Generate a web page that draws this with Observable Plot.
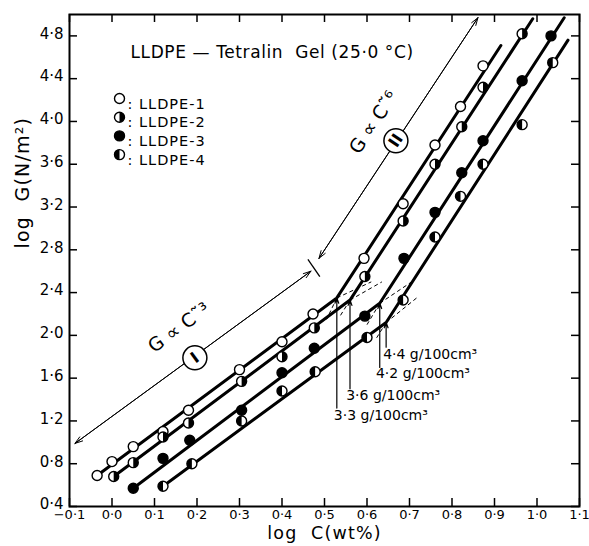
<!DOCTYPE html>
<html><head><meta charset="utf-8">
<script src="https://cdn.jsdelivr.net/npm/d3@7"></script>
<script src="https://cdn.jsdelivr.net/npm/@observablehq/plot@0.6"></script>
<style>
body{margin:0;background:#fff;}
#chart svg{display:block}
</style></head><body><div id="chart"></div>
<script>
// ---------- data ----------
const series = ["LLDPE-1","LLDPE-2","LLDPE-3","LLDPE-4"];

const c1 = [-0.035, 0.0, 0.05, 0.12, 0.18, 0.30, 0.40, 0.473, 0.593, 0.685, 0.76, 0.82, 0.873];
const g1 = [0.69, 0.82, 0.96, 1.10, 1.30, 1.68, 1.94, 2.20, 2.72, 3.23, 3.78, 4.14, 4.52];
const c2 = [0.004, 0.05, 0.12, 0.18, 0.305, 0.40, 0.476, 0.595, 0.685, 0.76, 0.823, 0.873, 0.965];
const g2 = [0.68, 0.81, 1.05, 1.18, 1.57, 1.80, 2.07, 2.55, 3.07, 3.60, 3.95, 4.32, 4.82];
const c3 = [0.05, 0.12, 0.183, 0.305, 0.40, 0.476, 0.595, 0.687, 0.76, 0.823, 0.873, 0.965, 1.033];
const g3 = [0.57, 0.85, 1.02, 1.30, 1.65, 1.88, 2.18, 2.72, 3.15, 3.52, 3.82, 4.38, 4.80];
const c4 = [0.12, 0.188, 0.305, 0.40, 0.478, 0.60, 0.685, 0.76, 0.82, 0.873, 0.965, 1.037];
const g4 = [0.59, 0.80, 1.20, 1.48, 1.66, 1.98, 2.33, 2.92, 3.30, 3.60, 3.97, 4.55];

// fitted broken lines: start, kink, end
const fitC1 = [-0.035, 0.529, 0.915], fitG1 = [0.69, 2.35, 4.71];
const fitC2 = [0.004, 0.56, 0.99],    fitG2 = [0.68, 2.33, 4.96];
const fitC3 = [0.05, 0.63, 1.064],    fitG3 = [0.57, 2.30, 4.97];
const fitC4 = [0.12, 0.645, 1.073],   fitG4 = [0.59, 2.12, 4.76];

// dashed extensions beyond each kink
const dashLowC = [0.61, 0.635, 0.705, 0.72], dashLowG = [2.50, 2.50, 2.50, 2.36];
const dashUpC  = [0.505, 0.535, 0.60, 0.62], dashUpG  = [2.15, 2.17, 2.10, 1.96];

// critical concentrations
const concLabels = ["3·3 g/100cm³", "3·6 g/100cm³", "4·2 g/100cm³", "4·4 g/100cm³"];
const concC   = [0.529, 0.56, 0.63, 0.645];
const concTop = [2.35, 2.33, 2.30, 2.12];
const concBot = [1.32, 1.50, 1.70, 1.89];
const concLabelC = [0.522, 0.551, 0.621, 0.638];
const concLabelG = [1.25, 1.44, 1.64, 1.82];

// region arrows (I and II)
const regC1 = [-0.087, 0.487], regG1 = [0.99, 2.72];
const regC2 = [0.468, 0.861], regG2 = [2.60, 4.97];
const regionText = ["G ∝ C˜³", "G ∝ C˜⁶"];
const regionTextC = [0.158, 0.616], regionTextG = [2.07, 3.99];
const regionNum = ["I", "II"];
const regionNumC = [0.195, 0.668], regionNumG = [1.79, 3.82];
const regionAngle = [-36, -56];
const crossC = [0.461, 0.489], crossG = [2.71, 2.55];

// axes
const xTicks = [-0.1,0.0,0.1,0.2,0.3,0.4,0.5,0.6,0.7,0.8,0.9,1.0,1.1];
const xTickLabels = ["−0·1","0·0","0·1","0·2","0·3","0·4","0·5","0·6","0·7","0·8","0·9","1·0","1·1"];
const yTicks = [0.4,0.8,1.2,1.6,2.0,2.4,2.8,3.2,3.6,4.0,4.4,4.8];
const yTickLabels = ["0·4","0·8","1·2","1·6","2·0","2·4","2·8","3·2","3·6","4·0","4·4","4·8"];
const xTitle = "log  C(wt%)";
const yTitle = "log  G(N/m²)";
const title = "LLDPE — Tetralin  Gel (25·0 °C)";

// ---------- tables ----------
const pts = [[c1,g1],[c2,g2],[c3,g3],[c4,g4]].flatMap(([cs,gs],k) =>
  cs.map((c,i) => ({series: series[k], logC: c, logG: gs[i]})));
const fits = [[fitC1,fitG1],[fitC2,fitG2],[fitC3,fitG3],[fitC4,fitG4]].flatMap(([cs,gs],k) =>
  cs.map((c,i) => ({series: series[k], logC: c, logG: gs[i]})));
const kinks = [[fitC1,fitG1],[fitC2,fitG2],[fitC3,fitG3],[fitC4,fitG4]].map(([cs,gs]) => [cs[1], gs[1]]);
const dashes = kinks.flatMap(([kc,kg],k) => [
  {x1: kc, y1: kg, x2: dashLowC[k], y2: dashLowG[k]},
  {x1: kc, y1: kg, x2: dashUpC[k], y2: dashUpG[k]}
]);
const concs = concLabels.map((t,i) => ({t, x: concC[i], y1: concBot[i], y2: concTop[i], lx: concLabelC[i], ly: concLabelG[i]}));
const regs = regC1.map((c,i) => ({x1: c, y1: regG1[i], x2: regC2[i], y2: regG2[i]}));
const regTexts = regionText.map((t,i) => ({t, x: regionTextC[i], y: regionTextG[i], a: regionAngle[i]}));
const regNums = regionNum.map((t,i) => ({t, x: regionNumC[i], y: regionNumG[i], a: regionAngle[i]}));

// half-disc symbols
const halfRight = {draw(ctx, size){ const r = Math.sqrt(size/Math.PI); ctx.moveTo(0,-r); ctx.arc(0,0,r,-Math.PI/2,Math.PI/2,false); ctx.closePath(); }};
const halfLeft  = {draw(ctx, size){ const r = Math.sqrt(size/Math.PI); ctx.moveTo(0,-r); ctx.arc(0,0,r,-Math.PI/2,Math.PI/2,true); ctx.closePath(); }};
const fillOf = s => s === "LLDPE-3" ? "black" : "white";
const halfOf = {"LLDPE-2": halfRight, "LLDPE-4": halfLeft};

const W = 589, H = 546, mL = 69, mR = 10, mT = 14, mB = 40;
const iw = W - mL - mR, ih = H - mT - mB, tk = 8;
const FONT = "DejaVu Sans, sans-serif";

const legendMarks = series.flatMap((s,i) => {
  const dy = 84 + i*18.7;
  const m = [Plot.dot([s], {frameAnchor: "top-left", dx: 50, dy, r: 5, fill: fillOf(s), stroke: "black", strokeWidth: 1.4})];
  if (halfOf[s]) m.push(Plot.dot([s], {frameAnchor: "top-left", dx: 50, dy, r: 5, symbol: halfOf[s], fill: "black", stroke: "none"}));
  m.push(Plot.text([": " + s], {frameAnchor: "top-left", dx: 58, dy, text: d => d, textAnchor: "start", fontSize: 14.5}));
  return m;
});

const chart = Plot.plot({
  width: W, height: H,
  marginLeft: mL, marginRight: mR, marginTop: mT, marginBottom: mB,
  style: {fontFamily: FONT, background: "#fff", color: "#000"},
  x: {domain: [-0.1, 1.1]},
  y: {domain: [0.4, 5.0]},
  marks: [
    Plot.frame({stroke: "black", strokeWidth: 2}),
    // inward ticks on all four sides
    Plot.tickX(xTicks, {x: d => d, insetTop: ih - tk, stroke: "black", strokeWidth: 1.5}),
    Plot.tickX(xTicks, {x: d => d, insetBottom: ih - tk, stroke: "black", strokeWidth: 1.5}),
    Plot.tickY(yTicks, {y: d => d, insetRight: iw - tk, stroke: "black", strokeWidth: 1.5}),
    Plot.tickY(yTicks, {y: d => d, insetLeft: iw - tk, stroke: "black", strokeWidth: 1.5}),
    Plot.axisX(xTicks, {tickSize: 0, tickPadding: 3, label: null, fontSize: 13, tickFormat: d => xTickLabels[xTicks.indexOf(d)]}),
    Plot.axisY(yTicks, {tickSize: 0, tickPadding: 6, label: null, fontSize: 15, dy: -2, tickFormat: d => yTickLabels[yTicks.indexOf(d)]}),
    Plot.text([xTitle], {frameAnchor: "bottom", dy: 32, text: d => d, fontSize: 17.5}),
    Plot.text([yTitle], {frameAnchor: "left", dx: -47, dy: -12, rotate: -90, text: d => d, fontSize: 19}),
    Plot.text([title], {frameAnchor: "top-left", dx: 61, dy: 31, text: d => d, textAnchor: "start", fontSize: 17}),
    ...legendMarks,
    // region arrows
    Plot.arrow(regs, {x1: "x1", y1: "y1", x2: "x2", y2: "y2", stroke: "black", strokeWidth: 1, headLength: 12, headAngle: 36}),
    Plot.arrow(regs, {x1: "x2", y1: "y2", x2: "x1", y2: "y1", stroke: "black", strokeWidth: 1, headLength: 12, headAngle: 36}),
    Plot.link([0], {x1: () => crossC[0], y1: () => crossG[0], x2: () => crossC[1], y2: () => crossG[1], stroke: "black", strokeWidth: 1.3}),
    Plot.text(regTexts, {x: "x", y: "y", text: "t", rotate: "a", fontSize: 19}),
    Plot.dot(regNums, {x: "x", y: "y", r: 12, fill: "white", stroke: "black", strokeWidth: 1.5}),
    Plot.text(regNums, {x: "x", y: "y", text: "t", rotate: "a", fontSize: 16, fontWeight: "bold"}),
    // dashed extensions
    Plot.link(dashes, {x1: "x1", y1: "y1", x2: "x2", y2: "y2", stroke: "black", strokeWidth: 1, strokeDasharray: "4,3"}),
    // critical concentration markers
    Plot.arrow(concs, {x1: "x", y1: "y1", x2: "x", y2: "y2", stroke: "black", strokeWidth: 1.2, headLength: 7, headAngle: 40}),
    Plot.text(concs, {x: "lx", y: "ly", text: "t", textAnchor: "start", fontSize: 14}),
    // fitted lines
    Plot.line(fits, {x: "logC", y: "logG", z: "series", stroke: "black", strokeWidth: 3}),
    // data points
    Plot.dot(pts, {x: "logC", y: "logG", r: 5, fill: d => fillOf(d.series), stroke: "black", strokeWidth: 1.4}),
    Plot.dot(pts.filter(d => d.series === "LLDPE-2"), {x: "logC", y: "logG", r: 5, symbol: halfRight, fill: "black", stroke: "none"}),
    Plot.dot(pts.filter(d => d.series === "LLDPE-4"), {x: "logC", y: "logG", r: 5, symbol: halfLeft, fill: "black", stroke: "none"})
  ]
});
document.getElementById("chart").appendChild(chart);
d3.select(chart).selectAll("text").each(function(){
  const t = this.textContent;
  if (t === xTitle || t === yTitle) d3.select(this).style("letter-spacing", "1.2px");
  if (t.startsWith(": LLDPE")) d3.select(this).style("letter-spacing", "1px");
  if (t === title) d3.select(this).style("letter-spacing", "0.6px");
});
</script></body></html>
